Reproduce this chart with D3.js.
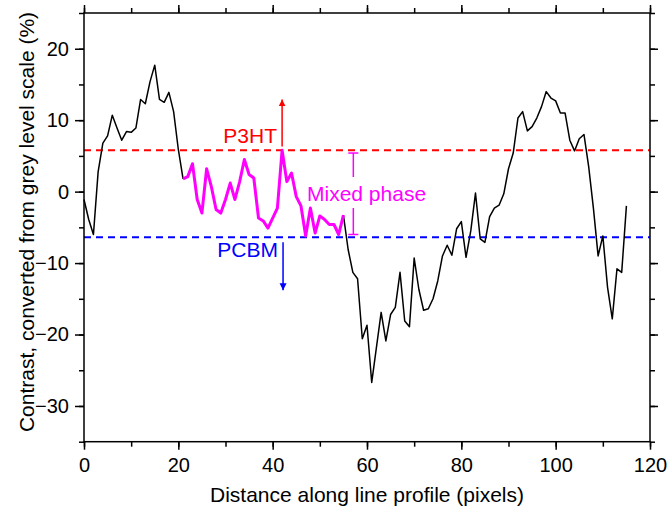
<!DOCTYPE html>
<html><head><meta charset="utf-8">
<script src="https://cdn.jsdelivr.net/npm/d3@7"></script>
<style>body{margin:0;background:#fff}svg{display:block}text{font-family:"Liberation Sans",Arial,sans-serif}</style>
</head><body><svg id="c" width="669" height="510"></svg>
<script>
// Data
const xTicks = [0, 20, 40, 60, 80, 100, 120];
const yTicks = [-30, -20, -10, 0, 10, 20];
const profileX = d3.range(0, 116);
const profileY = [
 -1.1,-3.9,-6.0,2.8,6.8,7.8,10.7,8.9,7.2,8.4,
 8.3,8.9,12.9,12.3,15.4,17.7,12.9,12.5,13.9,11.2,
 5.9,1.8,2.1,3.9,-1.1,-3.0,3.2,0.7,-2.5,-3.0,
 -1.1,1.2,-1.1,1.4,4.5,2.4,1.9,-3.7,-4.1,-5.1,
 -3.7,-2.3,5.8,1.4,2.6,-0.7,-2.0,-6.2,-2.3,-5.8,
 -3.4,-3.9,-4.6,-4.6,-6.0,-3.3,-8.1,-11.3,-12.2,-20.6,
 -18.7,-26.7,-21.8,-16.9,-20.9,-17.2,-16.2,-11.3,-18.1,-18.9,
 -9.3,-13.7,-16.6,-16.4,-15.0,-12.5,-9.0,-7.5,-8.9,-5.2,
 -4.2,-9.2,-5.5,-0.2,-6.6,-7.1,-3.5,-2.3,-1.9,-0.3,
 3.2,5.4,10.3,11.2,8.5,9.1,10.3,11.9,14.0,13.1,
 12.7,11.0,11.0,7.2,5.7,7.4,8.0,3.5,-2.3,-9.0,
 -6.2,-13.4,-17.8,-10.8,-11.3,-2.0
];
const mixedRange = [21, 55];        // x range drawn in magenta
const p3htLevel = 5.8;
const pcbmLevel = -6.4;
const p3htArrow = {x: 42, from: 6.3, to: 12.9};
const pcbmArrow = {x: 42.2, from: -7.1, to: -13.8};
const bracket = {x: 57.1, top: 5.4, bottom: -6.0};

const svg = d3.select("#c");
const L = 84, R = 650, T = 13, B = 441.7;
const x = d3.scaleLinear().domain([0, 120]).range([L, R]);
const y = d3.scaleLinear().domain([-35, 25]).range([B, T]);

const defs = svg.append("defs");
[["ar","#ff0000"],["ab","#0000ff"]].forEach(([id,c])=>{
  defs.append("marker").attr("id",id).attr("viewBox","0 0 10 10").attr("refX",10).attr("refY",5)
   .attr("markerWidth",7).attr("markerHeight",11).attr("markerUnits","userSpaceOnUse").attr("orient","auto")
   .append("path").attr("d","M0,0 L10,5 L0,10 Z").attr("fill",c);
});

// dashed levels
svg.append("line").attr("x1",L).attr("x2",R).attr("y1",y(p3htLevel)).attr("y2",y(p3htLevel))
  .attr("stroke","#ff0000").attr("stroke-width",2).attr("stroke-dasharray","7,5");
svg.append("line").attr("x1",L).attr("x2",R).attr("y1",y(pcbmLevel)).attr("y2",y(pcbmLevel))
  .attr("stroke","#0000ff").attr("stroke-width",2).attr("stroke-dasharray","7,5");

const pts = profileX.map((d,i)=>[d, profileY[i]]);
const line = d3.line().x(d=>x(d[0])).y(d=>y(d[1]));
svg.append("path").attr("d", line(pts.filter(d=>d[0]<=mixedRange[0])))
  .attr("fill","none").attr("stroke","#000").attr("stroke-width",1.5).attr("stroke-linejoin","round");
svg.append("path").attr("d", line(pts.filter(d=>d[0]>=mixedRange[1])))
  .attr("fill","none").attr("stroke","#000").attr("stroke-width",1.5).attr("stroke-linejoin","round");
svg.append("path").attr("d", line(pts.filter(d=>d[0]>=mixedRange[0] && d[0]<=mixedRange[1])))
  .attr("fill","none").attr("stroke","#ff00ff").attr("stroke-width",3).attr("stroke-linejoin","round");

// arrows
svg.append("line").attr("x1",x(p3htArrow.x)).attr("x2",x(p3htArrow.x)).attr("y1",y(p3htArrow.from)).attr("y2",y(p3htArrow.to))
  .attr("stroke","#ff0000").attr("stroke-width",1.5).attr("marker-end","url(#ar)");
svg.append("line").attr("x1",x(pcbmArrow.x)).attr("x2",x(pcbmArrow.x)).attr("y1",y(pcbmArrow.from)).attr("y2",y(pcbmArrow.to))
  .attr("stroke","#0000ff").attr("stroke-width",1.5).attr("marker-end","url(#ab)");

// bracket
const bx = x(bracket.x), bt = y(bracket.top), bb = y(bracket.bottom);
const bg = svg.append("g").attr("stroke","#ff00ff").attr("stroke-width",1.5);
bg.append("line").attr("x1",bx-5).attr("x2",bx+5).attr("y1",bt).attr("y2",bt);
bg.append("line").attr("x1",bx).attr("x2",bx).attr("y1",bt).attr("y2",177);
bg.append("line").attr("x1",bx).attr("x2",bx).attr("y1",208).attr("y2",bb);
bg.append("line").attr("x1",bx-5).attr("x2",bx+5).attr("y1",bb).attr("y2",bb);

// annotations
svg.append("text").attr("x",277).attr("y",143).attr("text-anchor","end").attr("fill","#ff0000").attr("font-size",21).text("P3HT");
svg.append("text").attr("x",278).attr("y",257).attr("text-anchor","end").attr("fill","#0000ff").attr("font-size",21).text("PCBM");
svg.append("text").attr("x",307).attr("y",201).attr("fill","#ff00ff").attr("font-size",21).text("Mixed phase");

// axes
function styleAxis(g){ g.select(".domain").remove(); g.selectAll("line").attr("stroke","#000").attr("stroke-width",1.5); g.selectAll("text").attr("font-size",20).attr("fill","#000").attr("font-family","Liberation Sans, Arial, sans-serif"); }
const xMinor = d3.range(0,121,10), yMinor = d3.range(-35,26,5);
svg.append("g").attr("transform",`translate(0,${B})`).call(d3.axisBottom(x).tickValues(xMinor).tickSize(5).tickFormat("")).call(styleAxis);
svg.append("g").attr("transform",`translate(0,${B})`).call(d3.axisBottom(x).tickValues(xTicks).tickSize(8).tickPadding(8)).call(styleAxis);
svg.append("g").attr("transform",`translate(0,${T})`).call(d3.axisTop(x).tickValues(xMinor).tickSize(5).tickFormat("")).call(styleAxis);
svg.append("g").attr("transform",`translate(0,${T})`).call(d3.axisTop(x).tickValues(xTicks).tickSize(8).tickFormat("")).call(styleAxis);
svg.append("g").attr("transform",`translate(${L},0)`).call(d3.axisLeft(y).tickValues(yMinor).tickSize(5).tickFormat("")).call(styleAxis);
svg.append("g").attr("transform",`translate(${L},0)`).call(d3.axisLeft(y).tickValues(yTicks).tickSize(9).tickPadding(6)).call(styleAxis);
svg.append("g").attr("transform",`translate(${R},0)`).call(d3.axisRight(y).tickValues(yMinor).tickSize(5).tickFormat("")).call(styleAxis);
svg.append("g").attr("transform",`translate(${R},0)`).call(d3.axisRight(y).tickValues(yTicks).tickSize(8).tickFormat("")).call(styleAxis);
svg.append("rect").attr("x",L).attr("y",T).attr("width",R-L).attr("height",B-T).attr("fill","none").attr("stroke","#000").attr("stroke-width",1.5);

svg.append("text").attr("x",367).attr("y",502).attr("text-anchor","middle").attr("font-size",21).text("Distance along line profile (pixels)");
svg.append("text").attr("transform",`translate(34,222) rotate(-90)`).attr("text-anchor","middle").attr("font-size",21).text("Contrast, converted from grey level scale (%)");
</script></body></html>
